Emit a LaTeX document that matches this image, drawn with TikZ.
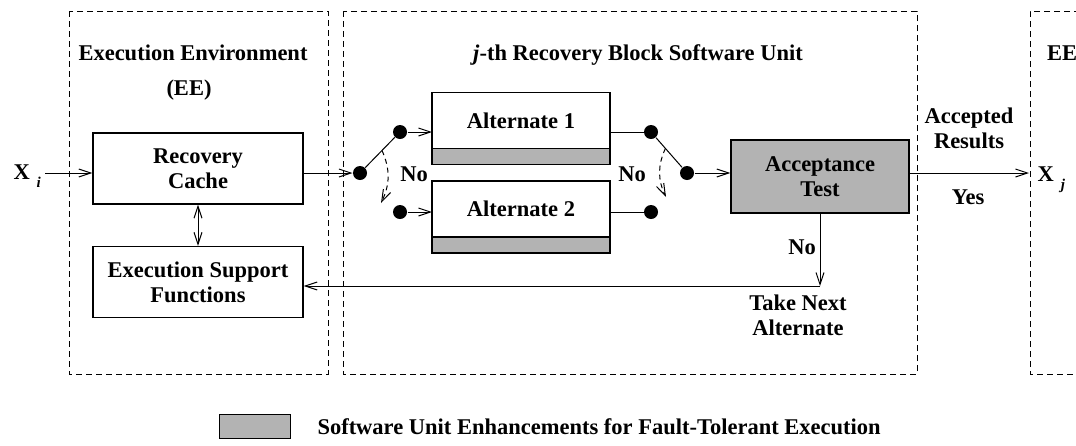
\documentclass[tikz,border=0pt]{standalone}
\usepackage{fontspec}
\setmainfont{Liberation Serif}
\usepackage{tikz}
\definecolor{EnhanceGray}{RGB}{179,179,179}
\usetikzlibrary{backgrounds}
\usetikzlibrary{calc}
\usetikzlibrary{arrows.meta}
\usetikzlibrary{positioning}
\newcommand{\blockw}{210pt}
\newcommand{\blockh}{71pt}
\newcommand{\altw}{178pt}
\newcommand{\alth}{56pt}
\newcommand{\bandh}{16pt}
\newcommand{\testw}{178pt}
\newcommand{\testh}{73pt}
\newcommand{\dotsize}{14pt}
\newcommand{\subidx}[1]{\hspace{7pt}\raisebox{-8pt}{\fontsize{15}{15}\selectfont\itshape #1}}

\begin{document}
\begin{tikzpicture}[x=1pt,y=-1pt,line width=1pt,
    font=\bfseries\fontsize{22.5}{25}\selectfont,
    unitframe/.style={dash pattern=on 6pt off 4pt},
    textnote/.style={align=center,inner sep=0pt},
    blockbox/.style={draw,line width=1.3pt,align=center,inner sep=0pt,
      minimum width=\blockw,minimum height=\blockh},
    altbox/.style={draw,line width=1.3pt,inner sep=0pt,outer sep=0pt,
      minimum width=\altw,minimum height=\alth},
    bandbox/.style={altbox,fill=EnhanceGray,minimum height=\bandh},
    switchdot/.style={circle,fill,inner sep=0pt,minimum size=\dotsize},
    flow/.style={-{Straight Barb[length=12pt,width=8pt]}},
    bothflow/.style={{Straight Barb[length=12pt,width=8pt]}-{Straight Barb[length=12pt,width=8pt]}},
    tryflow/.style={flow,dash pattern=on 5pt off 4pt}]
    \useasboundingbox (0,0) rectangle (1076,445);
    \coordinate (mainline) at (0,173);

    % execution environment
    \begin{scope}
      \node[textnote,anchor=base] (envtitle) at (193,60) {Execution Environment};
      \node[textnote,anchor=base] (envee) at (189,95) {(EE)};
      \node[blockbox] (cache) at (198,168.5) {Recovery\\Cache};
      \node[blockbox] (esf) at (198,282) {Execution Support\\Functions};
      \node[textnote,anchor=base west] (xin) at (13,179) {X\subidx{i}};
      \draw[flow] ([xshift=4pt]xin.east |- mainline) -- (cache.west |- mainline);
      \draw[bothflow] (cache) -- (esf);
    \end{scope}

    % recovery block
    \begin{scope}
      \node[textnote,anchor=base] (rbtitle) at (638,60) {\textit{j}-th Recovery Block Software Unit};
      \node[altbox] (altone) at (521,120.3) {Alternate 1};
      \node[bandbox,below=0pt of altone] (altoneband) {};
      \node[altbox] (alttwo) at (521,209) {Alternate 2};
      \node[bandbox,below=0pt of alttwo] (alttwoband) {};
      \node[switchdot] (inswitch) at (360,173) {};
      \node[switchdot] (pickone) at (400,132) {};
      \node[switchdot] (picktwo) at (400,212) {};
      \node[switchdot] (outone) at (651,132) {};
      \node[switchdot] (outtwo) at (651,212) {};
      \node[switchdot] (outswitch) at (687,173) {};
      \draw[flow] (cache.east |- inswitch) -- (inswitch);
      \draw (inswitch) -- (pickone);
      \draw[flow] (pickone) -- (pickone -| altone.west);
      \draw[flow] (picktwo) -- (picktwo -| alttwo.west);
      \draw (outone -| altone.east) -- (outone);
      \draw (outtwo -| alttwo.east) -- (outtwo);
      \draw (outone) -- (outswitch);
      % switch to next alternate
      \coordinate (tryin) at ($(inswitch)!0.55!(pickone)$);
      \coordinate (tryinend) at (381,203);
      \draw[tryflow] (tryin) to[bend left=25] (tryinend);
      \coordinate (tryout) at ($(outone)!0.4!(outswitch)$);
      \coordinate (tryoutend) at (666,197);
      \draw[tryflow] (tryout) to[bend right=25] (tryoutend);
      \node[textnote,anchor=base] (noin) at (414,181) {No};
      \node[textnote,anchor=base] (noout) at (632,181) {No};
    \end{scope}

    % acceptance test
    \begin{scope}
      \node[blockbox,fill=EnhanceGray,minimum width=\testw,minimum height=\testh]
        (accept) at (820,176.5) {Acceptance\\Test};
      \draw[flow] (outswitch) -- (outswitch -| accept.west);
      \node[textnote,anchor=base west] (xout) at (1037,181) {X\subidx{j}};
      \draw[flow] (accept.east |- mainline) -- ([xshift=-8pt]xout.west |- mainline);
      \node[textnote] (accepted) at (969,128.5) {Accepted\\Results};
      \node[textnote,anchor=base] (yes) at (968,204) {Yes};
      \coordinate (turn) at (820,286);
      \draw[flow] (accept) -- (turn);
      \draw[flow] (turn) -- (turn -| esf.east);
      \node[textnote,anchor=base] (nonext) at (802,254) {No};
      \node[textnote] (takenext) at (798,315) {Take Next\\Alternate};
    \end{scope}

    % legend
    \begin{scope}
      \node[draw,fill=EnhanceGray,minimum width=71pt,minimum height=24pt] (legendkey) at (254.5,426) {};
      \node[textnote,anchor=base west] (legendtext) at (317,434)
        {Software Unit Enhancements for Fault-Tolerant Execution};
    \end{scope}

    \begin{scope}[on background layer]
      % unit frames
      \draw[unitframe] (69,11) rectangle (328,374);
      \draw[unitframe] (343,11) rectangle (917,374);
      \draw[unitframe] (1080,11) -| (1030,374) -- (1080,374);
      \node[textnote,anchor=base west] (eenext) at (1047,60) {EE};
    \end{scope}
  \end{tikzpicture}
\end{document}
